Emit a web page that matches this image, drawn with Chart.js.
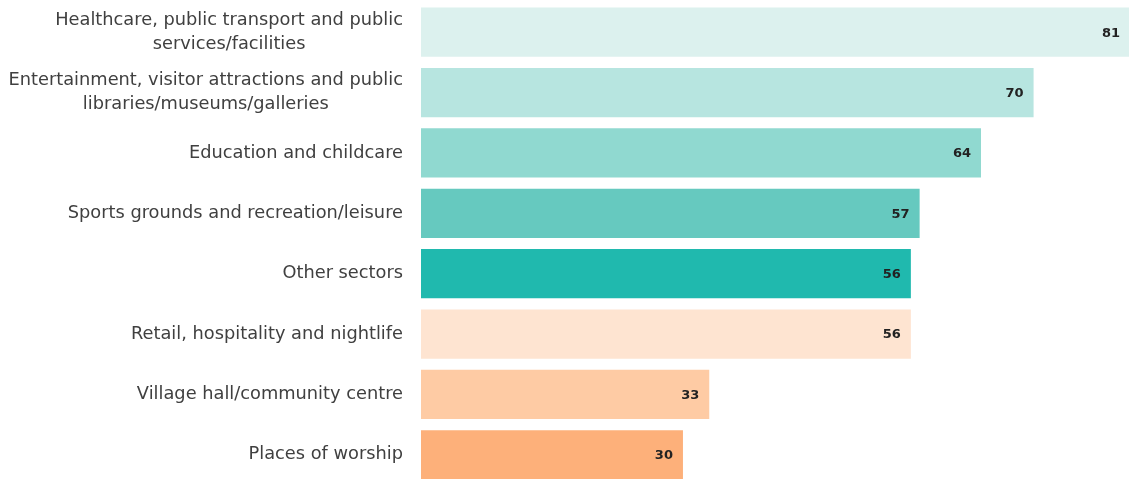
<!DOCTYPE html>
<html><head><meta charset="utf-8">
<script src="https://cdn.jsdelivr.net/npm/chart.js@4/dist/chart.umd.min.js"></script>
<style>html,body{margin:0;padding:0;background:#fff;overflow:hidden;}#wrap{width:1140px;height:487px;}</style>
</head><body><div id="wrap"><canvas id="c" width="1140" height="487"></canvas></div>
<script>
const categories = [
  ["Healthcare, public transport and public", "services/facilities"],
  ["Entertainment, visitor attractions and public", "libraries/museums/galleries"],
  "Education and childcare",
  "Sports grounds and recreation/leisure",
  "Other sectors",
  "Retail, hospitality and nightlife",
  "Village hall/community centre",
  "Places of worship"
];
const values = [81, 70, 64, 57, 56, 56, 33, 30];
const barColors = ["#DCF1EE", "#B7E5E0", "#90D9D0", "#66C9BF", "#20B9AE", "#FEE4D1", "#FECBA4", "#FDB07A"];

const LABEL_FONT = '17.8px "DejaVu Sans", sans-serif';
const LINE_H = 24;

const categoryLabels = {
  id: 'categoryLabels',
  afterDraw(chart) {
    const ctx = chart.ctx;
    const y = chart.scales.y;
    const rightX = chart.chartArea.left - 18;
    ctx.save();
    ctx.font = LABEL_FONT;
    ctx.fillStyle = '#404040';
    ctx.textBaseline = 'middle';
    categories.forEach((lab, i) => {
      const cy = y.getPixelForTick(i);
      const lines = Array.isArray(lab) ? lab : [lab];
      const widest = Math.max(...lines.map(l => ctx.measureText(l).width));
      const startY = cy - (lines.length - 1) * LINE_H / 2;
      lines.forEach((l, k) => {
        if (lines.length > 1) {
          ctx.textAlign = 'center';
          ctx.fillText(l, rightX - widest / 2, startY + k * LINE_H);
        } else {
          ctx.textAlign = 'right';
          ctx.fillText(l, rightX, startY);
        }
      });
    });
    ctx.restore();
  }
};

const valueLabels = {
  id: 'valueLabels',
  afterDatasetsDraw(chart) {
    const ctx = chart.ctx;
    const meta = chart.getDatasetMeta(0);
    ctx.save();
    ctx.font = 'bold 13px "DejaVu Sans", sans-serif';
    ctx.fillStyle = '#222222';
    ctx.textAlign = 'right';
    ctx.textBaseline = 'middle';
    meta.data.forEach((bar, i) => {
      ctx.fillText(String(values[i]), bar.x - 11, bar.y + 1);
    });
    ctx.restore();
  }
};

new Chart(document.getElementById('c'), {
  type: 'bar',
  data: {
    labels: categories,
    datasets: [{
      data: values,
      backgroundColor: barColors,
      borderColor: 'rgba(255,255,255,0.5)',
      borderWidth: 1,
      barPercentage: 0.85,
      categoryPercentage: 1.0
    }]
  },
  options: {
    indexAxis: 'y',
    responsive: false,
    animation: false,
    layout: { padding: { top: 2, bottom: 2, right: 9, left: 0 } },
    plugins: { legend: { display: false }, tooltip: { enabled: false } },
    scales: {
      x: { display: false, min: 0, max: 81 },
      y: {
        grid: { display: false, drawTicks: false },
        border: { display: false },
        afterFit(scale) { scale.width = 421; scale.paddingTop = 0; scale.paddingBottom = 0; },
        ticks: { display: false }
      }
    }
  },
  plugins: [valueLabels, categoryLabels]
});
</script>
</body></html>
